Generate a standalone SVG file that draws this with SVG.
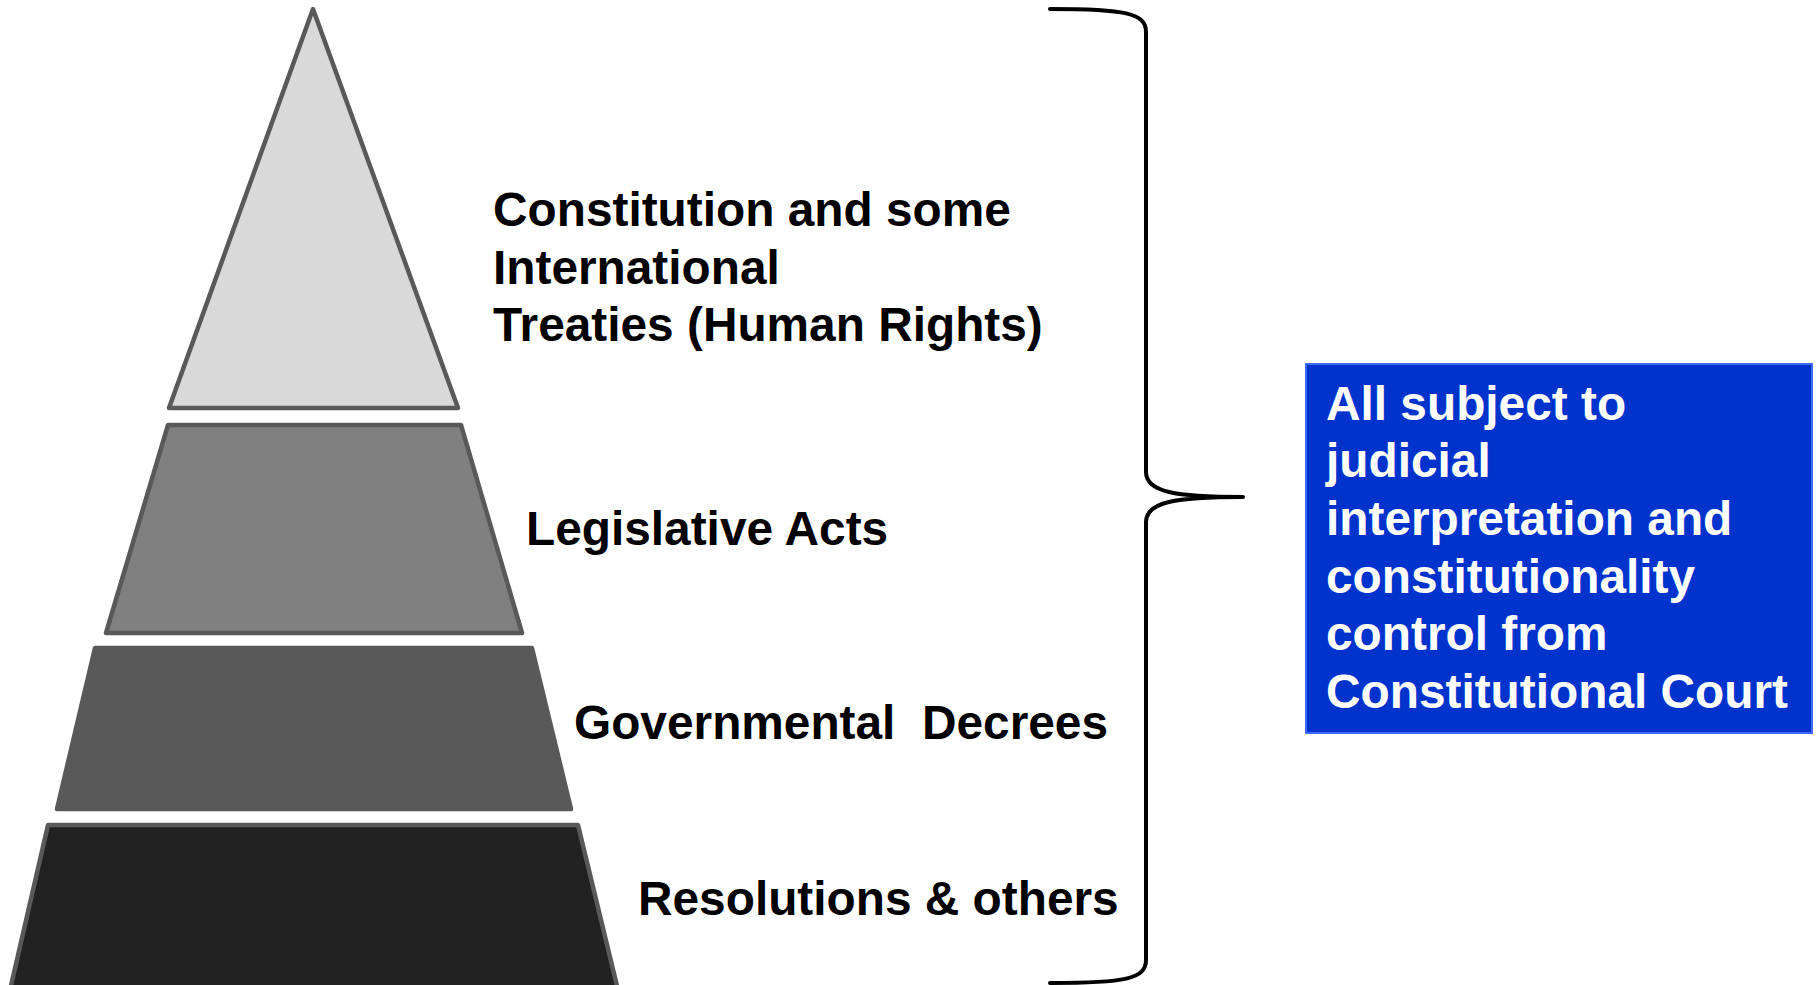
<svg xmlns="http://www.w3.org/2000/svg" width="1819" height="985" viewBox="0 0 1819 985">
  <style>
    .tier { stroke: #595959; stroke-width: 4.5; stroke-linejoin: round; }
    .lbl { font-family: "Liberation Sans", Arial, sans-serif; font-weight: bold; font-size: 47.8px; fill: #000; }
    .note { font-family: "Liberation Sans", Arial, sans-serif; font-weight: bold; font-size: 47.8px; fill: #fff; }
    .brace { fill: none; stroke: #000; stroke-width: 4; stroke-linecap: round; stroke-linejoin: round; }
  </style>
  <rect width="1819" height="985" fill="#fff"/>

  <!-- pyramid tiers, top to bottom -->
  <g id="tier-constitution">
    <polygon class="tier" fill="#d9d9d9" points="313,9 458,408 169,408"/>
    <text class="lbl" x="493" y="226">Constitution and some</text>
    <text class="lbl" x="493" y="284">International</text>
    <text class="lbl" x="493" y="341">Treaties (Human Rights)</text>
  </g>
  <g id="tier-legislative">
    <polygon class="tier" fill="#808080" points="168,425 461,425 522,633 106,633"/>
    <text class="lbl" x="526" y="545">Legislative Acts</text>
  </g>
  <g id="tier-decrees">
    <polygon class="tier" fill="#595959" points="95,648 532,648 571,809 57,809"/>
    <text class="lbl" x="574" y="739" xml:space="preserve">Governmental  Decrees</text>
  </g>
  <g id="tier-resolutions">
    <polygon class="tier" fill="#212121" points="48,825 578,825 618,990 10,990"/>
    <text class="lbl" x="638" y="915">Resolutions &amp; others</text>
  </g>

  <!-- curly brace grouping all tiers -->
  <g id="connectors">
    <path class="brace" d="M 1050 9 C 1125 9, 1146 13, 1146 32 L 1146 472 C 1146 492, 1175 497, 1243 497 C 1175 497, 1146 502, 1146 522 L 1146 960 C 1146 979, 1125 983, 1050 983"/>
  </g>

  <!-- review note -->
  <g id="note-constitutional-court">
    <rect x="1306" y="364" width="506" height="369" fill="#0033cc" stroke="#3d6bff" stroke-width="2"/>
    <text class="note" x="1326" y="420">All subject to</text>
    <text class="note" x="1326" y="477">judicial</text>
    <text class="note" x="1326" y="535">interpretation and</text>
    <text class="note" x="1326" y="593">constitutionality</text>
    <text class="note" x="1326" y="650">control from</text>
    <text class="note" x="1326" y="708">Constitutional Court</text>
  </g>
</svg>
